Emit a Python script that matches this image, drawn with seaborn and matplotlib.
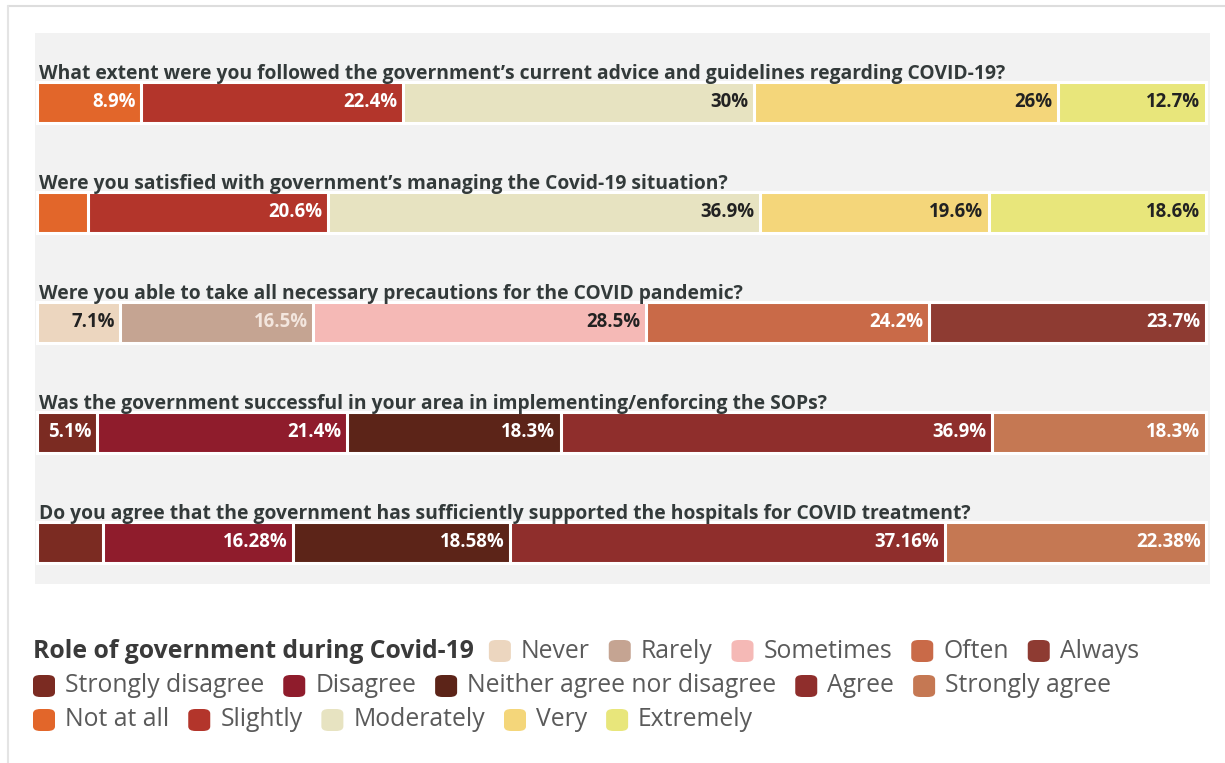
import matplotlib
matplotlib.use("Agg")
import matplotlib.pyplot as plt
from matplotlib.patches import FancyBboxPatch
import seaborn as sns
import pandas as pd
import numpy as np

# ---- data -------------------------------------------------------------
questions = [
    "What extent were you followed the government\u2019s current advice and guidelines regarding COVID-19?",
    "Were you satisfied with government\u2019s managing the Covid-19 situation?",
    "Were you able to take all necessary precautions for the COVID pandemic?",
    "Was the government successful in your area in implementing/enforcing the SOPs?",
    "Do you agree that the government has sufficiently supported the hospitals for COVID treatment?",
]

extent_scale = ["Not at all", "Slightly", "Moderately", "Very", "Extremely"]
frequency_scale = ["Never", "Rarely", "Sometimes", "Often", "Always"]
agreement_scale = ["Strongly disagree", "Disagree", "Neither agree nor disagree",
                   "Agree", "Strongly agree"]

row_scales = [extent_scale, extent_scale, frequency_scale, agreement_scale, agreement_scale]

q1_values = [8.9, 22.4, 30.0, 26.0, 12.7]
q2_values = [4.3, 20.6, 36.9, 19.6, 18.6]
q3_values = [7.1, 16.5, 28.5, 24.2, 23.7]
q4_values = [5.1, 21.4, 18.3, 36.9, 18.3]
q5_values = [5.62, 16.28, 18.58, 37.16, 22.38]

q1_labels = ["8.9%", "22.4%", "30%", "26%", "12.7%"]
q2_labels = ["", "20.6%", "36.9%", "19.6%", "18.6%"]
q3_labels = ["7.1%", "16.5%", "28.5%", "24.2%", "23.7%"]
q4_labels = ["5.1%", "21.4%", "18.3%", "36.9%", "18.3%"]
q5_labels = ["", "16.28%", "18.58%", "37.16%", "22.38%"]

row_values = [q1_values, q2_values, q3_values, q4_values, q5_values]
row_labels = [q1_labels, q2_labels, q3_labels, q4_labels, q5_labels]

legend_title = "Role of government during Covid-19"

palette = {
    "Never": "#ecd6bf",
    "Rarely": "#c5a492",
    "Sometimes": "#f5b9b6",
    "Often": "#c96a48",
    "Always": "#8e3b32",
    "Strongly disagree": "#7b2b22",
    "Disagree": "#8f1c2c",
    "Neither agree nor disagree": "#5c2418",
    "Agree": "#8f2e2c",
    "Strongly agree": "#c57853",
    "Not at all": "#e2662a",
    "Slightly": "#b3352b",
    "Moderately": "#e7e3c1",
    "Very": "#f4d67a",
    "Extremely": "#e8e67b",
}
label_colors = {
    "Never": "#222222", "Rarely": "#f3e6de", "Sometimes": "#222222",
    "Moderately": "#222222", "Very": "#222222", "Extremely": "#222222",
}
legend_order = frequency_scale + agreement_scale + extent_scale

# ---- figure -------------------------------------------------------------
sns.set_theme(style="white")
plt.rcParams["font.family"] = ["Open Sans", "DejaVu Sans"]

W, H = 1225, 763
fig = plt.figure(figsize=(W / 100, H / 100), dpi=100)
fig.patch.set_facecolor("white")

# thin frame lines at the top and left edges
fig.add_artist(plt.Line2D([8 / W, 1], [1 - 6 / H, 1 - 6 / H], color="#dddddd", lw=1.5))
fig.add_artist(plt.Line2D([8 / W, 8 / W], [0, 1 - 6 / H], color="#e4e4e4", lw=1.5))

px_l, px_r, px_t, px_b = 35, 1210, 33, 584
ax = fig.add_axes([px_l / W, 1 - px_b / H, (px_r - px_l) / W, (px_b - px_t) / H])
ax.set_facecolor("#f2f2f2")

# stacked bars: draw cumulative totals from the widest down, so each layer
# shows only its own segment; white edges give the separating gaps
records = []
for qi, (q, vals, scale) in enumerate(zip(questions, row_values, row_scales)):
    cum = np.cumsum(vals)
    for k in range(5):
        records.append({"question": q, "layer": k, "cum": cum[k], "category": scale[k]})
df = pd.DataFrame(records)

for k in range(4, -1, -1):
    sns.barplot(data=df[df["layer"] == k], y="question", x="cum", hue="category",
                palette=palette, order=questions, dodge=False, orient="h",
                width=0.37, saturation=1, edgecolor="white", linewidth=2.2,
                legend=False, ax=ax)

# value labels, right-aligned inside each segment
for qi, (vals, labs, scale) in enumerate(zip(row_values, row_labels, row_scales)):
    cum = np.cumsum(vals)
    for k in range(5):
        if not labs[k]:
            continue
        ax.annotate(labs[k], xy=(cum[k], qi), xytext=(-4, 0), textcoords="offset points",
                    ha="right", va="center", fontsize=13.4, fontweight="bold",
                    color=label_colors.get(scale[k], "white"))

# question titles above each bar
for qi, q in enumerate(questions):
    ax.text(0.15, qi - 0.215, q, ha="left", va="baseline", fontsize=13.9,
            fontweight="bold", color="#333a3a")

ax.set_xlim(-0.2, 100.35)
ax.set_ylim(4.38, -0.63)
ax.set_xlabel("")
ax.set_ylabel("")
ax.set_xticks([])
ax.set_yticks([])
for s in ax.spines.values():
    s.set_visible(False)

# ---- flowing legend -------------------------------------------------------
fig.canvas.draw()
renderer = fig.canvas.get_renderer()
lx0 = 33
line_y = [651, 686, 720]
line = 0
t = fig.text(lx0 / W, 1 - line_y[0] / H, legend_title, ha="left", va="center",
             fontsize=17.8, fontweight="bold", color="#3a3a3a")
x = lx0 + t.get_window_extent(renderer).width + 15
sw = 22  # swatch size in px
for cat in legend_order:
    if cat in ("Strongly disagree", "Not at all"):
        line += 1
        x = lx0
    y = line_y[line]
    fig.add_artist(FancyBboxPatch((x / W, 1 - (y + sw / 2) / H), sw / W, sw / H,
                                  boxstyle="round,pad=0,rounding_size=0.006",
                                  transform=fig.transFigure, facecolor=palette[cat],
                                  edgecolor="none"))
    tt = fig.text((x + sw + 10) / W, 1 - y / H, cat, ha="left", va="center",
                  fontsize=17.8, color="#5a5a5a")
    x = x + sw + 10 + tt.get_window_extent(renderer).width + 19

fig.savefig("out.png", dpi=100, facecolor="white")
